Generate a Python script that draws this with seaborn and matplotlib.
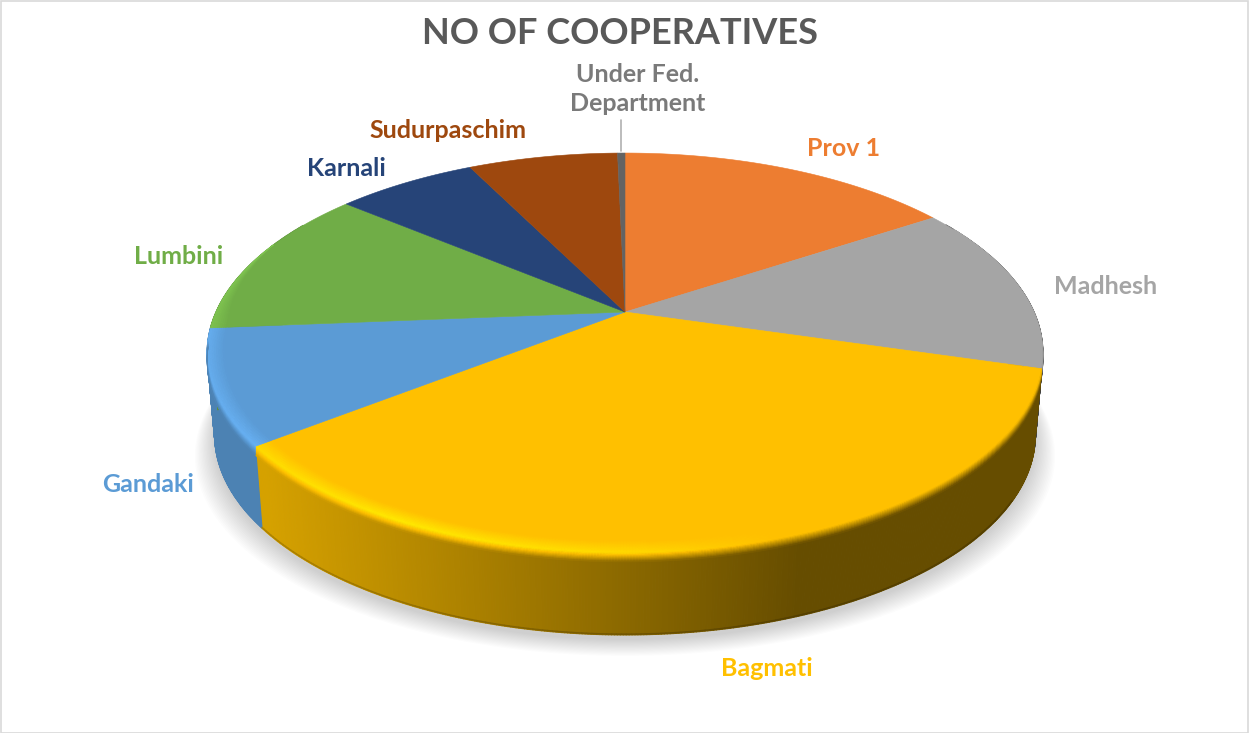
import numpy as np
import matplotlib
matplotlib.use("Agg")
import matplotlib.pyplot as plt
from matplotlib.collections import PolyCollection
from matplotlib.patches import Rectangle
import seaborn as sns

# shares (percent)
regions = ["Prov 1", "Madhesh", "Bagmati", "Gandaki", "Lumbini", "Karnali",
           "Sudurpaschim", "Under Fed.\nDepartment"]
shares = [15.8, 13.7, 35.0, 9.2, 12.3, 6.6, 7.05, 0.35]
colors = ["#ED7D31", "#A5A5A5", "#FFC000", "#5B9BD5", "#70AD47", "#264478",
          "#9E480E", "#636363"]
title = "NO OF COOPERATIVES"

sns.set_theme(style="white")
plt.rcParams["font.family"] = ["Lato", "DejaVu Sans"]
palette = sns.color_palette(colors)

CX, CY = 625, 312
RAD = 409
P, C = -127.6, 0.205   # tilt of the pie, apex sits above the ellipse centre
DEPTH = 82


def top_xy(theta, r=1.0):
    # theta in degrees, clockwise from the top
    t = np.radians(theta)
    xx, yy = r * np.sin(t), r * np.cos(t)
    w = 1 + C * yy
    return CX + RAD * xx / w, (CY + P * yy) / w


def bottom_xy(theta, r=1.0):
    x, y = top_xy(theta, r)
    return CX + (x - CX) * 0.982, y + DEPTH


def side_shade(x):
    return np.interp(x, [206, 262, 800, 1043], [0.84, 0.84, 0.40, 0.40])


def rim_light(x):
    return np.interp(x, [206, 400, 640, 780], [0.55, 1.0, 0.6, 0.0])


fig, ax = plt.subplots(figsize=(12.49, 7.33), dpi=100)
fig.subplots_adjust(0, 0, 1, 1)
ax.set_xlim(0, 1249)
ax.set_ylim(733, 0)
ax.axis("off")

ax.add_patch(Rectangle((0.5, 0.5), 1248, 732, fill=False, ec="#d9d9d9", lw=1.2, zorder=1))

# soft shadow under the pie
ring = np.linspace(0, 360, 361)
sx, sy = bottom_xy(ring)
for grow in np.linspace(20, 0, 16):
    ax.fill(CX + (sx - CX) * (1 + grow / 415), sy + 5 + grow * 0.8,
            color="black", alpha=0.011, lw=0, zorder=2)

edges = np.concatenate([[0], np.cumsum(shares)]) / np.sum(shares) * 360

side_polys, side_cols = [], []
rim_polys, rim_cols = [], []
for i in range(len(regions)):
    base = np.array(palette[i])
    lo, hi = edges[i], edges[i + 1]

    # walls, thin strips so the shading can follow x
    n = max(int((hi - lo) * 3), 2)
    th = np.linspace(lo, hi, n + 1)
    for a, b in zip(th[:-1], th[1:]):
        if not 60 < (a + b) / 2 < 300:
            continue
        x0, y0 = top_xy(a)
        x1, y1 = top_xy(b)
        x2, y2 = bottom_xy(b)
        x3, y3 = bottom_xy(a)
        side_polys.append([(x0, y0), (x1, y1), (x2, y2), (x3, y3)])
        side_cols.append(base * side_shade((x0 + x1) / 2))

    # flat top of the slice
    arc = np.linspace(lo, hi, n * 2 + 2)
    ax_x, ax_y = top_xy(arc)
    ax.fill(np.r_[CX, ax_x], np.r_[CY, ax_y], color=base, lw=0.4, ec=base, zorder=4)

    # bevel round the front of the slice: on the top face, then onto the wall
    for a, b in zip(th[:-1], th[1:]):
        mid = (a + b) / 2
        fade = np.clip((mid - 62) / 28, 0, 1) * np.clip((292 - mid) / 25, 0, 1)
        if fade <= 0:
            continue
        xm, _ = top_xy(mid)
        peak = 1 + 0.22 * rim_light(xm)
        dark = side_shade(xm)
        steps = np.linspace(0, 1, 9)
        for s0, s1 in zip(steps[:-1], steps[1:]):
            r0 = 1 - 0.04 * fade * (1 - s0)
            r1 = 1 - 0.04 * fade * (1 - s1)
            s = (s0 + s1) / 2
            xa, ya = top_xy(a, r0)
            xb, yb = top_xy(b, r0)
            xc, yc = top_xy(b, r1)
            xd, yd = top_xy(a, r1)
            rim_polys.append([(xa, ya), (xb, yb), (xc, yc), (xd, yd)])
            rim_cols.append(np.clip(base * (1 + (peak - 1) * s), 0, 1))
        if mid < 100 or mid > 262:
            continue
        for s0, s1 in zip(steps[:-1], steps[1:]):
            s = (s0 + s1) / 2
            xa, ya = top_xy(a)
            xb, yb = top_xy(b)
            rim_polys.append([(xa, ya + 9 * s0), (xb, yb + 9 * s0), (xb, yb + 9 * s1), (xa, ya + 9 * s1)])
            rim_cols.append(np.clip(base * (peak + (dark - peak) * s), 0, 1))

side_cols = np.clip(side_cols, 0, 1)
ax.add_collection(PolyCollection(side_polys, facecolors=side_cols, edgecolors=side_cols,
                                 linewidths=0.8, zorder=3))
ax.add_collection(PolyCollection(rim_polys, facecolors=rim_cols, edgecolors=rim_cols,
                                 linewidths=0.4, zorder=5))

# dark lip on the lower edge of the Bagmati wall
lip = np.linspace(edges[2] + 14, edges[3], 200)
lx, ly = bottom_xy(lip)
for k in range(len(lip) - 1):
    shade = side_shade(lx[k]) * 0.82
    ax.plot(lx[k:k + 2], ly[k:k + 2] - 0.8, color=np.array(palette[2]) * shade,
            lw=1.1, solid_capstyle="round", zorder=3.5)

# labels
label_pos = [(844, 148), (1106, 286), (767, 668), (148, 484), (179, 256),
             (346, 168), (448, 131), (638, 89)]
for i, name in enumerate(regions):
    col = "#7a7a7a" if i == 7 else palette[i]
    ax.text(label_pos[i][0], label_pos[i][1], name, color=col, fontsize=18,
            fontweight="bold", ha="center", va="center", linespacing=1.3, zorder=6)

ax.plot([621, 621], [120, 151], color="#b0b0b0", lw=1.2, zorder=6)
ax.text(620, 34, title, color="#595959", fontsize=26, fontweight="bold",
        ha="center", va="center", zorder=6)

fig.savefig("out.png", dpi=100, facecolor="white")
